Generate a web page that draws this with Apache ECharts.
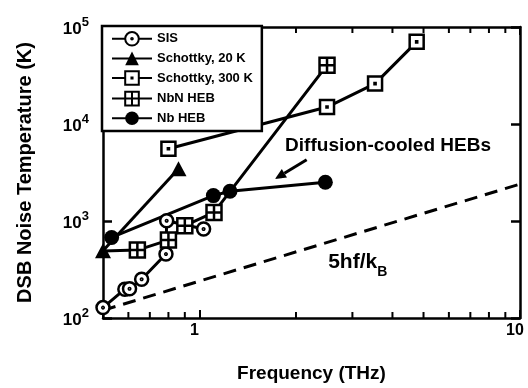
<!DOCTYPE html>
<html><head><meta charset="utf-8">
<script src="https://cdn.jsdelivr.net/npm/echarts@6/dist/echarts.min.js"></script>
<style>html,body{margin:0;padding:0;background:#fff}#c{width:528px;height:388px}</style>
</head><body><div id="c"></div>
<script>
// ---- data (frequency THz, noise temperature K) ----
const sisData = [[0.50,128],[0.585,198],[0.605,200],[0.66,251],[0.786,456],[0.79,1005],[1.03,826]];
const schottky20Data = [[0.50,493],[0.86,3450]];
const schottky300Data = [[0.80,5560],[2.5,14960],[3.53,26100],[4.76,70300]];
const nbnData = [[0.50,490],[0.64,501],[0.80,636],[0.90,894],[1.11,1227],[2.5,40400]];
const nbData = [[0.532,677],[1.105,1828],[1.245,2023],[2.47,2506]];
const limitData = [[0.5,120],[10,2400]];
const seriesNames = ['SIS','Schottky, 20 K','Schottky, 300 K','NbN HEB','Nb HEB'];
const xTickLabels = ['1','10'];
const yTickExponents = [2,3,4,5];
const xMinorTicks = [0.6,0.7,0.8,0.9,2,3,4,5,6,7,8,9];
const diffusionLabelAt = [1.85,6010];
const arrowFrom = [2.16,4275];
const arrowTo = [1.72,2717];
const limitLabelAt = [2.52,350];

const FONT = 'Liberation Sans, Arial, Helvetica, sans-serif';
const sisSymbol = 'path://M10,0A10,10,0,1,1,10,20A10,10,0,1,1,10,0Z M10,8.8A1.2,1.2,0,1,1,10,11.2A1.2,1.2,0,1,1,10,8.8Z';
const sqDotSymbol = 'path://M0,0L20,0L20,20L0,20Z M9.2,9.2L10.8,9.2L10.8,10.8L9.2,10.8Z';
const gridSymbol = 'path://M0,0L20,0L20,20L0,20Z M10,0L10,20 M0,10L20,10';

const chart = echarts.init(document.getElementById('c'), null, {renderer:'canvas'});
const axisLine = {show:true, lineStyle:{color:'#000', width:2.5}};
const lineBase = {type:'line', clip:false, lineStyle:{color:'#000', width:3}, z:3};

chart.setOption({
  animation:false,
  backgroundColor:'#fff',
  grid:{left:103, right:8, top:27, bottom:70},
  legend:{
    left:102, top:26, orient:'vertical', itemWidth:40, itemHeight:17, itemGap:5,
    padding:[5,9,6,9], borderColor:'#000', borderWidth:2.5, backgroundColor:'#fff',
    textStyle:{fontFamily:FONT, fontSize:13, fontWeight:'bold', color:'#000'}, data:seriesNames, z:10
  },
  xAxis:[
    {type:'log', logBase:10, min:0.5, max:10, position:'bottom',
     name:'Frequency (THz)', nameLocation:'middle', nameGap:46,
     nameTextStyle:{fontFamily:FONT, fontSize:19, fontWeight:'bold', color:'#000'},
     axisLine:axisLine, axisTick:{inside:true, length:8, lineStyle:{color:'#000', width:2}},
     axisLabel:{margin:5, padding:[0,10,0,0], fontFamily:FONT, fontSize:16, fontWeight:'bold', color:'#000',
       formatter:v=>{const s=String(Math.round(v*1000)/1000);return xTickLabels.includes(s)?s:'';}},
     splitLine:{show:false}, minorTick:{show:false}},
    {type:'log', logBase:10, min:0.5, max:10, position:'top',
     axisLine:axisLine, axisTick:{inside:true, length:8, lineStyle:{color:'#000', width:2}},
     axisLabel:{show:false}, splitLine:{show:false}}
  ],
  yAxis:[
    {type:'log', logBase:10, min:100, max:100000, position:'left',
     name:'DSB Noise Temperature (K)', nameLocation:'middle', nameGap:68,
     nameTextStyle:{fontFamily:FONT, fontSize:20, fontWeight:'bold', color:'#000'},
     axisLine:axisLine, axisTick:{inside:true, length:9, lineStyle:{color:'#000', width:2.5}},
     axisLabel:{margin:14, fontFamily:FONT, color:'#000',
       formatter:v=>{const e=Math.round(Math.log10(v));return yTickExponents.includes(e)?'{b|10}{s|'+e+'}':'';},
       rich:{b:{fontFamily:FONT, fontSize:17, fontWeight:'bold', color:'#000', verticalAlign:'bottom', lineHeight:22},
             s:{fontFamily:FONT, fontSize:13, fontWeight:'bold', color:'#000', verticalAlign:'top', lineHeight:22}}},
     splitLine:{show:false}},
    {type:'log', logBase:10, min:100, max:100000, position:'right',
     axisLine:axisLine, axisTick:{inside:true, length:9, lineStyle:{color:'#000', width:2.5}},
     axisLabel:{show:false}, splitLine:{show:false}}
  ],
  series:[
    {type:'line', name:'5hf/kB', data:limitData, symbol:'none', clip:false, silent:true,
     lineStyle:{color:'#000', width:3, type:[13,8]}, z:2},
    Object.assign({}, lineBase, {name:seriesNames[1], data:schottky20Data, symbol:'triangle', symbolSize:[16,15],
      itemStyle:{color:'#000'}}),
    Object.assign({}, lineBase, {name:seriesNames[2], data:schottky300Data, symbol:sqDotSymbol, symbolSize:14,
      itemStyle:{color:'#fff', borderColor:'#000', borderWidth:2.5}}),
    Object.assign({}, lineBase, {name:seriesNames[4], data:nbData, symbol:'circle', symbolSize:15,
      itemStyle:{color:'#000'}}),
    Object.assign({}, lineBase, {name:seriesNames[0], data:sisData, symbol:sisSymbol, symbolSize:13,
      itemStyle:{color:'#fff', borderColor:'#000', borderWidth:2.5}}),
    Object.assign({}, lineBase, {name:seriesNames[3],
      data:nbnData.map((d,i)=> i===0 ? {value:d, symbol:'none'} : d), symbol:gridSymbol, symbolSize:15,
      itemStyle:{color:'#fff', borderColor:'#000', borderWidth:2.5}}),
    {type:'custom', name:'minorTicks', silent:true, data:xMinorTicks.map(v=>[v,100]),
     encode:{x:0, y:1}, z:5,
     renderItem:(params, api)=>{
       const v = api.value(0);
       const pb = api.coord([v,100]);
       const pt = api.coord([v,100000]);
       return {type:'group', children:[
         {type:'line', shape:{x1:pb[0],y1:pb[1],x2:pb[0],y2:pb[1]-6}, style:{stroke:'#000', lineWidth:2}},
         {type:'line', shape:{x1:pt[0],y1:pt[1],x2:pt[0],y2:pt[1]+6}, style:{stroke:'#000', lineWidth:2}}
       ]};
     }}
  ]
});

function px(p){ return chart.convertToPixel({xAxisIndex:0, yAxisIndex:0}, p); }
const a1 = px(arrowFrom), a2 = px(arrowTo);
const dx = a2[0]-a1[0], dy = a2[1]-a1[1], L = Math.hypot(dx,dy), ux = dx/L, uy = dy/L;
const headLen = 11, headW = 5;
const base = [a2[0]-ux*headLen, a2[1]-uy*headLen];
const dl = px(diffusionLabelAt), ll = px(limitLabelAt);
chart.setOption({
  graphic:[
    {type:'text', x:dl[0], y:dl[1], style:{text:'Diffusion-cooled HEBs', font:'bold 19px '+FONT, fill:'#000', verticalAlign:'middle'}},
    {type:'line', shape:{x1:a1[0], y1:a1[1], x2:base[0], y2:base[1]}, style:{stroke:'#000', lineWidth:3}},
    {type:'polygon', shape:{points:[a2, [base[0]-uy*headW, base[1]+ux*headW], [base[0]+uy*headW, base[1]-ux*headW]]}, style:{fill:'#000'}},
    {type:'text', x:ll[0], y:ll[1], style:{
      text:'{m|5hf/k}{sub|B}', verticalAlign:'middle',
      rich:{m:{fontFamily:FONT, fontSize:21, fontWeight:'bold', fill:'#000', color:'#000', verticalAlign:'top', lineHeight:28},
            sub:{fontFamily:FONT, fontSize:14, fontWeight:'bold', fill:'#000', color:'#000', verticalAlign:'bottom', lineHeight:28}}}}
  ]
});
</script></body></html>
